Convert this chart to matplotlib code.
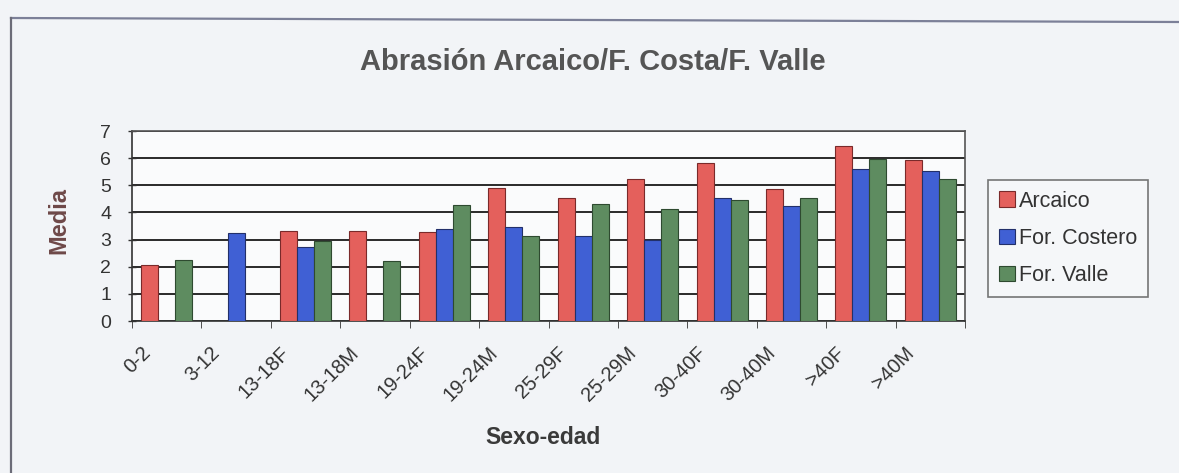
import numpy as np
import matplotlib
matplotlib.use('Agg')
import matplotlib.pyplot as plt
from matplotlib.lines import Line2D
from matplotlib.transforms import ScaledTranslation

plt.rcParams['font.family'] = ['Liberation Sans', 'DejaVu Sans']

# Medias de abrasión por grupo de sexo-edad (nan = sin dato)
grupos = ['0-2', '3-12', '13-18F', '13-18M', '19-24F', '19-24M',
          '25-29F', '25-29M', '30-40F', '30-40M', '>40F', '>40M']
arcaico = [2.07, np.nan, 3.33, 3.30, 3.29, 4.91, 4.52, 5.22, 5.82, 4.85, 6.44, 5.95]
costero = [np.nan, 3.26, 2.71, np.nan, 3.40, 3.46, 3.15, 2.97, 4.55, 4.23, 5.61, 5.52]
valle = [2.26, np.nan, 2.95, 2.20, 4.26, 3.12, 4.31, 4.11, 4.45, 4.54, 5.97, 5.24]

series = ['Arcaico', 'For. Costero', 'For. Valle']
colores = ['#e4605c', '#4060d4', '#5e8c60']
bordes = ['#7a2a2a', '#22306a', '#2e4a30']

W, H = 1179, 473
fig = plt.figure(figsize=(W / 100, H / 100), dpi=100)
fig.patch.set_facecolor('#f2f4f7')

# area de trazado en pixeles: x 132-965, y 131-321
ax = fig.add_axes([132 / W, 1 - 321 / H, (965 - 132) / W, (321 - 131) / H])
ax.set_facecolor('#fafbfc')

x = np.arange(len(grupos))
ancho = 0.245
for i, (vals, nombre) in enumerate(zip([arcaico, costero, valle], series)):
    ax.bar(x + (i - 1) * ancho, vals, ancho, color=colores[i], edgecolor=bordes[i],
           linewidth=0.8, label=nombre, zorder=3)

ax.set_xlim(-0.5, len(grupos) - 0.5)
ax.set_ylim(0, 7)
ax.set_yticks(range(8))
ax.yaxis.grid(True, color='#2a2a2a', linewidth=1.4, zorder=1)
for s in ax.spines.values():
    s.set_color('#555555')
    s.set_linewidth(1.2)
ax.spines['left'].set_color('#333333')
ax.spines['bottom'].set_color('#333333')

ax.tick_params(axis='y', direction='inout', length=6, width=1, pad=12,
               labelsize=14, labelcolor='#333333', color='#333333')

# marcas entre categorias, etiquetas giradas bajo cada grupo
ax.set_xticks(np.arange(len(grupos) + 1) - 0.5, minor=True)
ax.tick_params(axis='x', which='minor', direction='out', length=5, color='#333333')
ax.set_xticks(x)
ax.set_xticklabels(grupos, rotation=45, ha='right', va='center',
                   rotation_mode='anchor', fontsize=14.5, color='#333333')
ax.tick_params(axis='x', which='major', length=0, pad=21)
desplaza = ScaledTranslation(-0.19, 0, fig.dpi_scale_trans)
for lbl in ax.get_xticklabels():
    lbl.set_transform(lbl.get_transform() + desplaza)

fig.text(593 / W, 1 - 62 / H, 'Abrasión Arcaico/F. Costa/F. Valle', ha='center',
         va='center', fontsize=21, fontweight='bold', color='#555555')
fig.text(59 / W, 1 - 220 / H, 'Media', ha='center', va='center', rotation=90,
         fontsize=17, fontweight='bold', color='#6e4848')
fig.text(543 / W, 1 - 437 / H, 'Sexo-edad', ha='center', va='center',
         fontsize=16.5, fontweight='bold', color='#3a3a3a')

leg = fig.legend(loc='upper left', bbox_to_anchor=(988 / W, 1 - 180 / H),
                 fontsize=15.5, frameon=True, fancybox=False, handlelength=0.75,
                 handleheight=0.75, handletextpad=0.2, labelspacing=0.75,
                 borderpad=0.5, borderaxespad=0)
leg.get_frame().set_edgecolor('#555555')
leg.get_frame().set_facecolor('#f6f8fa')
leg.get_frame().set_linewidth(1.2)
for t in leg.get_texts():
    t.set_color('#333333')

# borde exterior del grafico (arriba e izquierda)
fig.add_artist(Line2D([11 / W, 1.0], [1 - 18 / H, 1 - 22 / H], color='#7c8098',
                      linewidth=1.6, transform=fig.transFigure))
fig.add_artist(Line2D([11 / W, 11 / W], [1 - 18 / H, 0.0], color='#6c6c78',
                      linewidth=1.6, transform=fig.transFigure))

fig.savefig('out.png', dpi=100, facecolor=fig.get_facecolor())
